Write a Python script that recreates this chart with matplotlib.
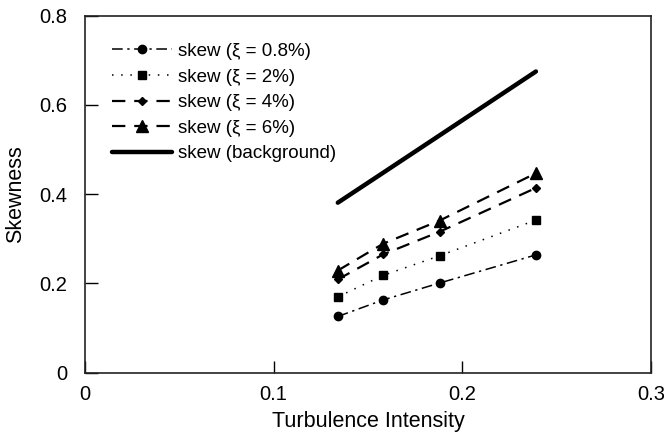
import matplotlib.pyplot as plt

plt.rcParams['font.family'] = ['Liberation Sans', 'DejaVu Sans']

# turbulence intensity at each measurement station
ti = [0.134, 0.158, 0.188, 0.239]

skew_08 = [0.126, 0.163, 0.201, 0.264]
skew_2 = [0.170, 0.218, 0.262, 0.342]
skew_4 = [0.209, 0.265, 0.316, 0.414]
skew_6 = [0.229, 0.289, 0.341, 0.447]
skew_bg = [0.381, 0.448, 0.532, 0.675]

labels = ['skew (ξ = 0.8%)', 'skew (ξ = 2%)', 'skew (ξ = 4%)',
          'skew (ξ = 6%)', 'skew (background)']

fig = plt.figure(figsize=(6.64, 4.42), dpi=100)
ax = fig.add_axes([85 / 664, 1 - 372.7 / 442, (651 - 85) / 664, (372.7 - 15.7) / 442])

ax.plot(ti, skew_08, color='black', lw=1.1, dashes=[7, 3, 1.5, 3],
        marker='o', ms=6, label=labels[0])
ax.plot(ti, skew_2, color='black', lw=1.1, dashes=[1, 5],
        marker='s', ms=6, label=labels[1])
ax.plot(ti, skew_4, color='black', lw=1.6, dashes=[6, 4],
        marker='D', ms=4, label=labels[2])
ax.plot(ti, skew_6, color='black', lw=1.6, dashes=[6, 4],
        marker='^', ms=8, label=labels[3])
ax.plot(ti, skew_bg, color='black', lw=3.2, solid_capstyle='round',
        label=labels[4])

ax.set_xlim(0, 0.3)
ax.set_ylim(0, 0.8)
ax.set_xticks([0, 0.1, 0.2, 0.3])
ax.set_xticklabels(['0', '0.1', '0.2', '0.3'])
ax.set_yticks([0, 0.2, 0.4, 0.6, 0.8])
ax.set_yticklabels(['0', '0.2', '0.4', '0.6', '0.8'])
ax.tick_params(direction='in', length=9, width=1, labelsize=14.5, pad=9)
ax.tick_params(axis='y', pad=13)
for s in ax.spines.values():
    s.set_linewidth(1.2)
    s.set_color('#222222')

ax.set_xlabel('Turbulence Intensity', fontsize=15.5, labelpad=5)
ax.set_ylabel('Skewness', fontsize=15.5, labelpad=9)

ax.legend(loc='upper left', frameon=False, fontsize=13.5, handlelength=3.2,
          handletextpad=0.3, labelspacing=0.45,
          bbox_to_anchor=(0.035, 0.945), borderaxespad=0)

fig.savefig('out.png', dpi=100)
